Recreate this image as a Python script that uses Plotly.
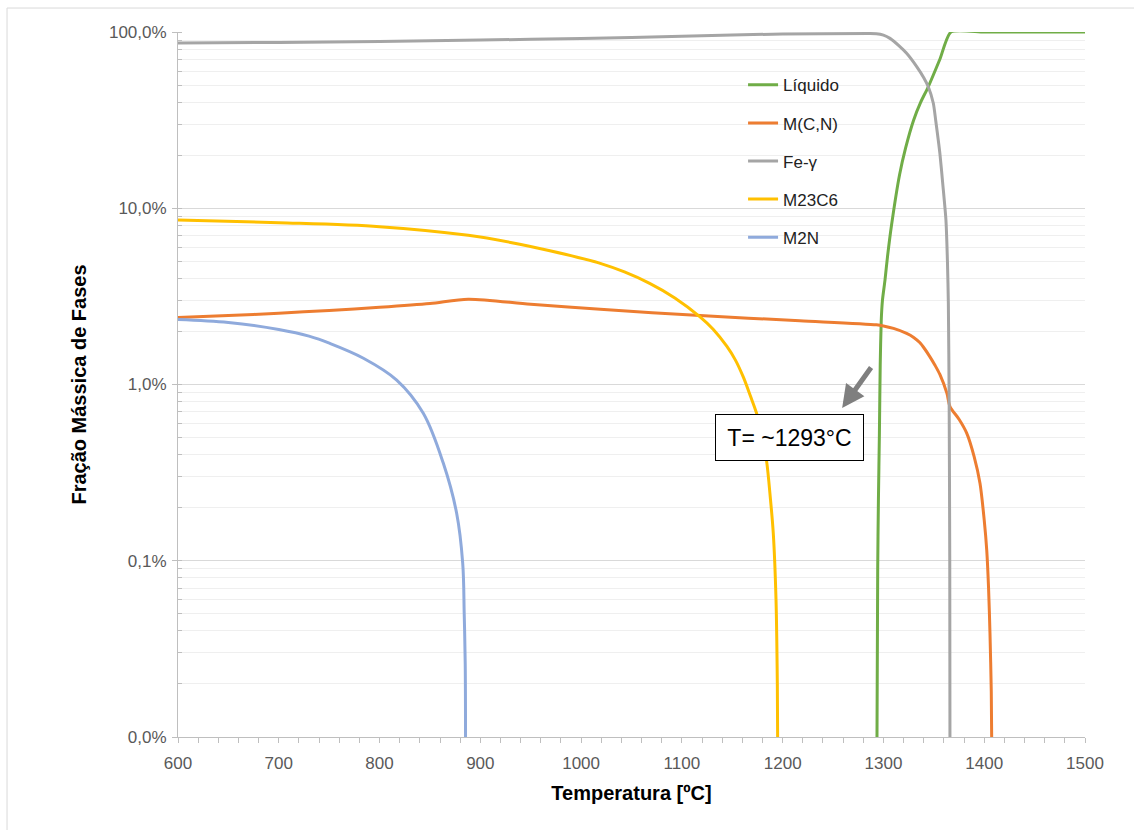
import plotly.graph_objects as go

# Temperature [°C] and phase mass fraction [%] for each phase
liq_T = [1293.6, 1294.3, 1295.0, 1296.0, 1296.8, 1297.8, 1299.0, 1301.5, 1304, 1308, 1316, 1322, 1330, 1337, 1344.5, 1356, 1367, 1400, 1450, 1500]
liq_pct = [0.01, 0.09, 0.22, 0.53, 1.3, 2.3, 3.0, 3.9, 5.3, 8.0, 15.5, 22, 31.7, 40, 48.9, 70, 100, 100, 100, 100]

mcn_T = [600, 650, 700, 750, 800, 850, 888, 950, 1019, 1118, 1217, 1293, 1300, 1310, 1323, 1330, 1336, 1341, 1346, 1351,
         1356, 1363, 1366, 1375, 1382.6, 1390, 1395.8, 1400, 1402.5, 1404.3, 1405.7, 1407.0, 1407.4]
mcn_pct = [2.40, 2.46, 2.54, 2.63, 2.74, 2.88, 3.05, 2.85, 2.67, 2.46, 2.30, 2.18, 2.15, 2.08, 1.95, 1.85, 1.73, 1.59, 1.44, 1.29,
           1.14, 0.89, 0.75, 0.635, 0.53, 0.39, 0.275, 0.17, 0.115, 0.07, 0.039, 0.018, 0.01]

fe_T = [600, 700, 800, 900, 1000, 1100, 1200, 1285, 1293, 1300, 1306.5, 1315, 1323, 1333, 1340, 1344.5, 1349.5, 1351.8,
        1356, 1359, 1362, 1363.5, 1364.4, 1365.2, 1365.8, 1366]
fe_pct = [86.6, 87.2, 88.3, 90.0, 91.9, 94.5, 97.5, 98.0, 97.8, 96.0, 92.0, 84.0, 75.7, 63.6, 55.0, 48.9, 39.4, 31.7,
          20.5, 13.5, 8.6, 5.0, 2.9, 0.8, 0.1, 0.01]

m23_T = [600, 700, 800, 888, 930, 969, 1019, 1043, 1068, 1093, 1118, 1131, 1144.5, 1153, 1161, 1168, 1174, 1179, 1184,
         1188, 1190.7, 1193.4, 1194.7, 1195]
m23_pct = [8.58, 8.28, 7.86, 7.02, 6.40, 5.74, 4.87, 4.35, 3.75, 3.10, 2.42, 2.06, 1.65, 1.38, 1.10, 0.86, 0.69, 0.53, 0.37,
           0.22, 0.143, 0.06, 0.02, 0.01]

m2n_T = [600, 650, 700, 730, 750.8, 784, 817, 843.4, 863.3, 876.5, 882.5, 884, 885, 885.3]
m2n_pct = [2.34, 2.25, 2.05, 1.88, 1.71, 1.41, 1.06, 0.687, 0.357, 0.186, 0.097, 0.05, 0.026, 0.01]

# name, temperatures, fractions, colour, spline smoothing
series = [
    ("Líquido", liq_T, liq_pct, "#70AD47", 0.6),
    ("M(C,N)", mcn_T, mcn_pct, "#ED7D31", 0.8),
    ("Fe-γ", fe_T, fe_pct, "#A5A5A5", 0.6),
    ("M23C6", m23_T, m23_pct, "#FFC000", 0.9),
    ("M2N", m2n_T, m2n_pct, "#8FAADC", 1.0),
]

y_tickvals = [0.01, 0.1, 1, 10, 100]
y_ticktext = ["0,0%", "0,1%", "1,0%", "10,0%", "100,0%"]

FONT = "Liberation Sans, Arial, sans-serif"

fig = go.Figure()
for name, xs, ys, color, smooth in series:
    fig.add_trace(go.Scatter(
        x=xs, y=ys, name=name, mode="lines", legendgroup=name,
        line=dict(color=color, width=3, shape="spline", smoothing=smooth),
        hoverinfo="skip",
    ))

# label and pointer for the liquidus start
fig.add_annotation(
    x=1206.3, y=-0.30, xref="x", yref="y",
    text="T= ~1293°C", showarrow=False,
    font=dict(family=FONT, size=23, color="#000000"),
    bordercolor="#000000", borderwidth=1, borderpad=0,
    width=147, height=45, bgcolor="#ffffff",
)
fig.add_annotation(
    x=1259, y=-0.133, xref="x", yref="y", text="",
    showarrow=True, arrowhead=2, arrowsize=0.9, arrowwidth=5,
    arrowcolor="#7F7F7F", ax=30, ay=-42, axref="pixel", ayref="pixel",
)

# outer chart frame (top and left edges)
fig.add_shape(type="line", xref="paper", yref="paper", x0=-0.1885, x1=1.06, y0=1.034, y1=1.034,
              line=dict(color="#D9D9D9", width=1))
fig.add_shape(type="line", xref="paper", yref="paper", x0=-0.1885, x1=-0.1885, y0=1.034, y1=-0.14,
              line=dict(color="#D9D9D9", width=1))

fig.update_layout(
    width=1134, height=830,
    margin=dict(l=178, r=49, t=32, b=93),
    paper_bgcolor="#ffffff", plot_bgcolor="#ffffff",
    font=dict(family=FONT, color="#595959"),
    showlegend=True,
    legend=dict(
        x=0.623, y=0.950, xanchor="left", yanchor="top",
        bgcolor="rgba(0,0,0,0)", font=dict(family=FONT, size=17, color="#222222"),
        tracegroupgap=13, itemwidth=30,
    ),
    xaxis=dict(
        range=[600, 1500], dtick=100, tick0=600,
        showgrid=False, zeroline=False,
        showline=True, linecolor="#BFBFBF", linewidth=1,
        ticks="outside", ticklen=5, tickcolor="#BFBFBF",
        tickfont=dict(family=FONT, size=17, color="#595959"),
        ticklabelstandoff=6,
        minor=dict(dtick=20, ticks="outside", ticklen=5, tickcolor="#BFBFBF", showgrid=False),
        title=dict(text="<b>Temperatura [ºC]</b>", font=dict(family=FONT, size=20, color="#000000"), standoff=13),
    ),
    yaxis=dict(
        type="log", range=[-2, 2],
        tickvals=y_tickvals, ticktext=y_ticktext,
        showgrid=True, gridcolor="#D9D9D9", gridwidth=1, zeroline=False,
        showline=True, linecolor="#BFBFBF", linewidth=1,
        ticks="outside", ticklen=5, tickcolor="#BFBFBF",
        tickfont=dict(family=FONT, size=17, color="#595959"),
        ticklabelstandoff=2,
        minor=dict(dtick="D1", ticks="inside", ticklen=4, tickcolor="#BFBFBF",
                   showgrid=True, gridcolor="#EFEFEF", gridwidth=1),
        title=dict(text="<b>Fração Mássica de Fases</b>", font=dict(family=FONT, size=20, color="#000000"), standoff=16),
    ),
)

fig.write_html("out.html")
